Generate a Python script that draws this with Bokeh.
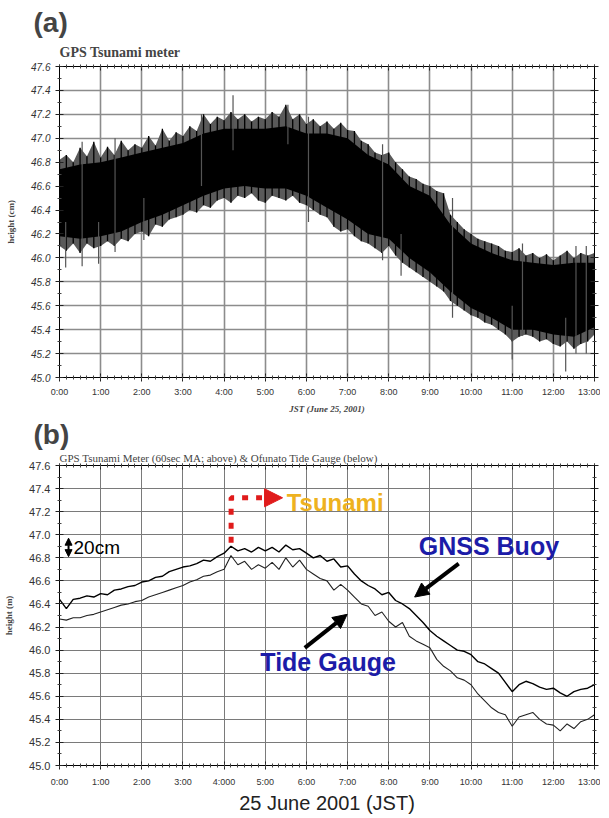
from bokeh.plotting import figure
from bokeh.layouts import column
from bokeh.models import (Range1d, FixedTicker, LinearAxis, Label, Arrow, Title,
                          NormalHead, NumeralTickFormatter)
from bokeh.embed import file_html
from bokeh.resources import INLINE

# ------------------------------------------------------------------ data
HOURS = list(range(14))
LABELS_A = ["0:00", "1:00", "2:00", "3:00", "4:00", "5:00", "6:00", "7:00",
            "8:00", "9:00", "10:00", "11:00", "12:00", "13:00"]
LABELS_B = ["0:00", "1:00", "2:00", "3:00", "4:000", "5:00", "6:00", "7:00",
            "8:00", "9:00", "10:00", "11:00", "12:00", "13:00"]
Y_TICKS = [45.0, 45.2, 45.4, 45.6, 45.8, 46.0, 46.2, 46.4, 46.6, 46.8,
           47.0, 47.2, 47.4, 47.6]
Y_MINOR = [45.1, 45.3, 45.5, 45.7, 45.9, 46.1, 46.3, 46.5, 46.7, 46.9,
           47.1, 47.3, 47.5]
MIN_10 = list(range(0, 781, 10))
MIN_30 = list(range(0, 781, 30))

# Panel (a): GPS tsunami meter raw band (outer spikes envelope, 10 min)
A_OUTER_TOP = [46.82, 46.86, 46.80, 46.92, 46.85, 46.97, 46.84, 46.93, 46.86, 46.98,
               46.90, 46.95, 46.92, 47.02, 46.94, 47.08, 46.98, 47.05, 47.02, 47.10,
               47.06, 47.20, 47.12, 47.18, 47.15, 47.22, 47.16, 47.20, 47.14, 47.18,
               47.16, 47.22, 47.18, 47.28, 47.16, 47.20, 47.12, 47.16, 47.10, 47.14,
               47.08, 47.13, 47.07, 47.06, 46.98, 46.95, 46.88, 46.86, 46.88, 46.80,
               46.74, 46.68, 46.66, 46.62, 46.60, 46.56, 46.54, 46.36, 46.30, 46.24,
               46.20, 46.16, 46.14, 46.12, 46.10, 46.06, 46.05, 46.08, 46.02, 46.04,
               46.00, 46.03, 45.98, 46.02, 46.06, 46.00, 46.04, 46.02, 46.04]
A_OUTER_BOT = [46.10, 46.06, 46.12, 46.04, 46.12, 46.08, 46.10, 46.14, 46.10, 46.16,
               46.14, 46.20, 46.22, 46.18, 46.28, 46.26, 46.32, 46.34, 46.36, 46.40,
               46.38, 46.44, 46.42, 46.48, 46.50, 46.46, 46.52, 46.50, 46.54, 46.48,
               46.46, 46.52, 46.50, 46.48, 46.52, 46.46, 46.44, 46.40, 46.36, 46.34,
               46.26, 46.22, 46.24, 46.18, 46.14, 46.12, 46.08, 46.04, 46.10, 46.02,
               45.96, 45.92, 45.88, 45.84, 45.80, 45.76, 45.72, 45.64, 45.60, 45.56,
               45.52, 45.50, 45.46, 45.44, 45.40, 45.36, 45.30, 45.34, 45.36, 45.34,
               45.30, 45.32, 45.28, 45.26, 45.30, 45.24, 45.28, 45.30, 45.36]
# dense core of the band (30 min)
A_CORE_TOP = [46.74, 46.78, 46.80, 46.84, 46.88, 46.92, 46.96, 47.04, 47.08, 47.08,
              47.08, 47.10, 47.04, 47.04, 47.00, 46.86, 46.78, 46.60, 46.52, 46.28,
              46.12, 46.04, 45.98, 45.96, 45.94, 45.96, 45.96]
A_CORE_BOT = [46.18, 46.16, 46.18, 46.22, 46.30, 46.36, 46.44, 46.52, 46.58, 46.60,
              46.58, 46.58, 46.52, 46.42, 46.32, 46.20, 46.16, 46.00, 45.88, 45.72,
              45.58, 45.50, 45.40, 45.40, 45.36, 45.34, 45.42]
# isolated spikes (minute, low, high)
A_SPIKE_MIN = [9, 33, 57, 81, 123, 207, 253, 333, 363, 471, 498, 573, 660, 675, 738, 753, 768]
A_SPIKE_LO = [45.92, 45.93, 45.95, 46.05, 46.15, 46.60, 46.90, 46.95, 46.30, 45.98,
              45.85, 45.50, 45.15, 45.35, 45.05, 45.20, 45.20]
A_SPIKE_HI = [46.30, 46.97, 46.30, 47.00, 46.50, 47.20, 47.36, 47.28, 47.18, 46.95,
              46.20, 46.50, 45.60, 46.12, 45.50, 46.10, 46.10]

# Panel (b): 60 s moving average (GNSS buoy) and Ofunato tide gauge (10 min)
B_BUOY = [46.44, 46.36, 46.44, 46.45, 46.47, 46.46, 46.49, 46.48, 46.52, 46.53,
          46.55, 46.56, 46.59, 46.60, 46.63, 46.64, 46.68, 46.70, 46.72, 46.73,
          46.75, 46.78, 46.77, 46.81, 46.84, 46.90, 46.86, 46.88, 46.85, 46.89,
          46.86, 46.89, 46.85, 46.91, 46.87, 46.88, 46.84, 46.80, 46.82, 46.77,
          46.79, 46.72, 46.73, 46.66, 46.60, 46.56, 46.53, 46.48, 46.50, 46.43,
          46.40, 46.36, 46.30, 46.24, 46.17, 46.12, 46.08, 46.04, 46.00, 45.99,
          45.96, 45.90, 45.88, 45.84, 45.80, 45.72, 45.64, 45.70, 45.73, 45.71,
          45.68, 45.66, 45.67, 45.63, 45.60, 45.64, 45.66, 45.67, 45.70]
B_TIDE = [46.27, 46.26, 46.28, 46.28, 46.30, 46.31, 46.33, 46.35, 46.37, 46.39,
          46.40, 46.42, 46.43, 46.46, 46.48, 46.50, 46.52, 46.54, 46.56, 46.59,
          46.61, 46.64, 46.65, 46.68, 46.70, 46.82, 46.74, 46.77, 46.70, 46.74,
          46.71, 46.76, 46.70, 46.80, 46.72, 46.78, 46.70, 46.66, 46.62, 46.60,
          46.52, 46.57, 46.52, 46.46, 46.40, 46.38, 46.30, 46.33, 46.25, 46.20,
          46.24, 46.12, 46.08, 46.05, 46.02, 45.92, 45.86, 45.82, 45.76, 45.74,
          45.70, 45.62, 45.56, 45.50, 45.46, 45.44, 45.34, 45.42, 45.44, 45.46,
          45.40, 45.36, 45.35, 45.30, 45.36, 45.32, 45.38, 45.40, 45.44]

# ------------------------------------------------------------------ annotation anchors (hours, metres)
TSUNAMI_PATH_X = [4.17, 4.17, 4.92]
TSUNAMI_PATH_Y = [46.93, 47.32, 47.32]
TSUNAMI_HEAD = (4.95, 5.42, 47.32)
TSUNAMI_TEXT = (5.52, 47.28)
SCALE_BAR = (0.22, 46.81, 46.97)
SCALE_TEXT = (0.34, 46.89)
BUOY_TEXT = (8.73, 46.90)
BUOY_ARROW = (9.70, 46.75, 8.63, 46.46)
TIDE_TEXT = (4.88, 45.90)
TIDE_ARROW = (5.96, 46.02, 6.99, 46.31)

SANS = "Liberation Sans"
SERIF = "Liberation Serif"
BLUE = "#1c1ca8"
RED = "#e01b1b"
GOLD = "#eeb21f"

t10 = [m / 60 for m in MIN_10]
t30 = [m / 60 for m in MIN_30]
ts = [m / 60 for m in A_SPIKE_MIN]


def style_frame(p, labels, xsize, ysize, yitalic, grid_color, grid_width):
    xt = FixedTicker(ticks=HOURS, minor_ticks=t10)
    yt = FixedTicker(ticks=Y_TICKS, minor_ticks=Y_MINOR)
    p.xgrid.ticker = FixedTicker(ticks=HOURS)
    p.ygrid.ticker = FixedTicker(ticks=Y_TICKS)
    for g in (p.xgrid[0], p.ygrid[0]):
        g.grid_line_color = grid_color
        g.grid_line_width = grid_width
    p.outline_line_color = "black"
    p.outline_line_width = 1
    p.background_fill_color = "white"
    p.border_fill_color = "white"

    xa = p.xaxis[0]
    ya = p.yaxis[0]
    xa.ticker = xt
    ya.ticker = yt
    xa.major_label_overrides = {h: lab for h, lab in zip(HOURS, labels)}
    ya.formatter = NumeralTickFormatter(format="0.0")
    top = LinearAxis(ticker=xt, major_label_text_font_size="0px",
                     major_label_text_color=None, major_label_standoff=0)
    right = LinearAxis(ticker=yt, major_label_text_font_size="0px",
                       major_label_text_color=None, major_label_standoff=0)
    p.add_layout(top, "above")
    p.add_layout(right, "right")
    for ax in (xa, ya, top, right):
        ax.axis_line_color = "black"
        ax.major_tick_line_color = "#222222"
        ax.minor_tick_line_color = "#444444"
        ax.major_tick_in = 4
        ax.major_tick_out = 4
        ax.minor_tick_in = 2
        ax.minor_tick_out = 2
    top.major_tick_out = 2
    xa.major_label_text_font = SANS
    xa.major_label_text_font_size = xsize
    xa.major_label_text_color = "#333333"
    ya.major_label_text_font = SANS
    ya.major_label_text_font_size = ysize
    ya.major_label_text_color = "#333333"
    if yitalic:
        ya.major_label_text_font_style = "italic"
    return xa, ya


def text(p, pos, txt, font, size, style="normal", color="black", align="left"):
    p.add_layout(Label(x=pos[0], y=pos[1], text=txt, text_font=font, text_font_size=size,
                       text_font_style=style, text_color=color,
                       text_baseline="middle", text_align=align))


# ------------------------------------------------------------------ panel (a)
p1 = figure(width=600, height=416, x_range=Range1d(0, 13), y_range=Range1d(45, 47.6),
            output_backend="svg", toolbar_location=None, title=None,
            min_border_left=59, min_border_right=6, min_border_top=66, min_border_bottom=39)
xa1, ya1 = style_frame(p1, LABELS_A, "9px", "10px", True, "#8c8c8c", 1.6)
xa1.major_label_standoff = 5
xa1.axis_label = "JST (June 25, 2001)"
xa1.axis_label_text_font = SERIF
xa1.axis_label_text_font_size = "9px"
xa1.axis_label_text_font_style = "bold italic"
xa1.axis_label_standoff = 4
ya1.axis_label = "height (cm)"
ya1.axis_label_text_font = SERIF
ya1.axis_label_text_font_size = "9px"
ya1.axis_label_text_font_style = "bold"
ya1.axis_label_standoff = 12

p1.varea(x=t10, y1=A_OUTER_BOT, y2=A_OUTER_TOP, fill_color="#5a5a5a")
p1.segment(x0=t10, y0=A_OUTER_BOT, x1=t10, y1=A_OUTER_TOP, line_color="black", line_width=1.3)
p1.varea(x=t30, y1=A_CORE_BOT, y2=A_CORE_TOP, fill_color="black")
p1.segment(x0=ts, y0=A_SPIKE_LO, x1=ts, y1=A_SPIKE_HI, line_color="#555555", line_width=1.2)

p1.add_layout(Title(text="GPS Tsunami meter", text_font=SERIF, text_font_size="14px",
                    text_font_style="bold", align="left", standoff=10), "above")
p1.add_layout(Title(text="(a)", text_font=SANS, text_font_size="28px",
                    text_font_style="bold", align="left", offset=-26, standoff=0), "above")

# ------------------------------------------------------------------ panel (b)
p2 = figure(width=600, height=400, x_range=Range1d(0, 13), y_range=Range1d(45, 47.6),
            output_backend="svg", toolbar_location=None, title=None,
            min_border_left=57, min_border_right=4, min_border_top=0, min_border_bottom=50)
xa2, ya2 = style_frame(p2, LABELS_B, "9px", "11px", False, "#7a7a7a", 1.0)
xa2.major_label_standoff = 7
xa2.axis_label = "25 June 2001 (JST)"
xa2.axis_label_text_font = SANS
xa2.axis_label_text_font_size = "20px"
xa2.axis_label_text_font_style = "normal"
xa2.axis_label_text_color = "#222222"
xa2.axis_label_standoff = 2
ya2.axis_label = "height (m)"
ya2.axis_label_text_font = SERIF
ya2.axis_label_text_font_size = "9px"
ya2.axis_label_text_font_style = "bold"
ya2.axis_label_standoff = 12

p2.line(x=t10, y=B_BUOY, line_color="black", line_width=1.4)
p2.line(x=t10, y=B_TIDE, line_color="#222222", line_width=1.1)

# tsunami onset marker
p2.line(x=TSUNAMI_PATH_X, y=TSUNAMI_PATH_Y, line_color=RED, line_width=5,
        line_dash="6 8", line_cap="butt")
p2.add_layout(Arrow(end=NormalHead(size=18, fill_color=RED, line_color=RED, line_width=1),
                    x_start=TSUNAMI_HEAD[0], y_start=TSUNAMI_HEAD[2],
                    x_end=TSUNAMI_HEAD[1], y_end=TSUNAMI_HEAD[2],
                    line_color=RED, line_width=4, line_alpha=0.0))
text(p2, TSUNAMI_TEXT, "Tsunami", SANS, "24px", "bold", GOLD)

# 20 cm scale bar
p2.add_layout(Arrow(start=NormalHead(size=7, fill_color="black", line_color="black"),
                    end=NormalHead(size=7, fill_color="black", line_color="black"),
                    x_start=SCALE_BAR[0], y_start=SCALE_BAR[1],
                    x_end=SCALE_BAR[0], y_end=SCALE_BAR[2], line_width=2))
text(p2, SCALE_TEXT, "20cm", SANS, "19px")

# series labels and pointers
text(p2, BUOY_TEXT, "GNSS Buoy", SANS, "25px", "bold", BLUE)
p2.add_layout(Arrow(end=NormalHead(size=14, fill_color="black", line_color="black"),
                    x_start=BUOY_ARROW[0], y_start=BUOY_ARROW[1],
                    x_end=BUOY_ARROW[2], y_end=BUOY_ARROW[3], line_width=4))
text(p2, TIDE_TEXT, "Tide Gauge", SANS, "25px", "bold", BLUE)
p2.add_layout(Arrow(end=NormalHead(size=14, fill_color="black", line_color="black"),
                    x_start=TIDE_ARROW[0], y_start=TIDE_ARROW[1],
                    x_end=TIDE_ARROW[2], y_end=TIDE_ARROW[3], line_width=4))

p2.add_layout(Title(text="GPS Tsunami Meter (60sec MA; above) & Ofunato Tide Gauge (below)",
                    text_font=SERIF, text_font_size="11px", text_font_style="normal",
                    align="left", standoff=0), "above")
p2.add_layout(Title(text="(b)", text_font=SANS, text_font_size="28px",
                    text_font_style="bold", align="left", offset=-26, standoff=0), "above")

layout = column(p1, p2, spacing=0)
open("out.html", "w").write(file_html(layout, INLINE))
